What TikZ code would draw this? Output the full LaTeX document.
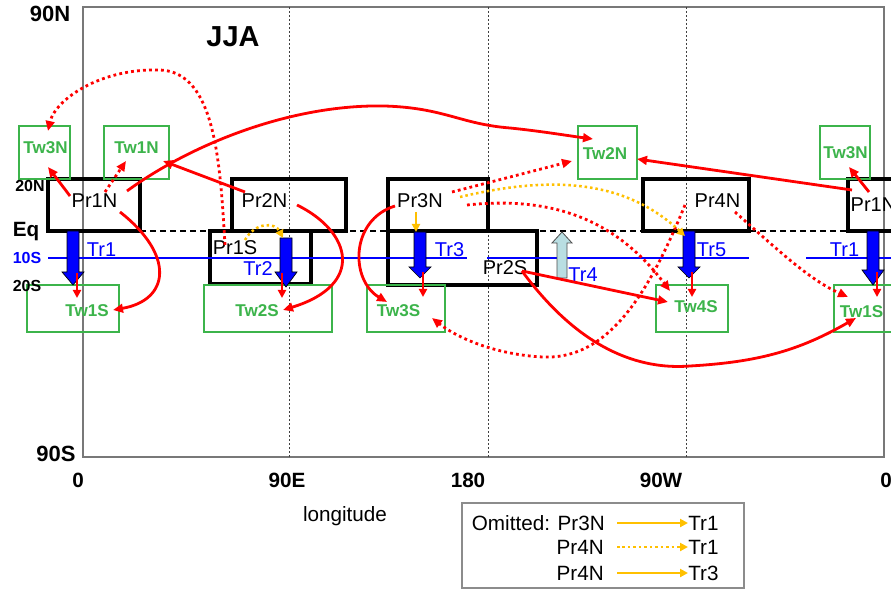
\documentclass[tikz,border=0pt]{standalone}
\usepackage{fontspec}
\setmainfont{Liberation Sans}
\usetikzlibrary{arrows.meta}
\definecolor{twgreen}{RGB}{60,180,75}
\definecolor{tgold}{RGB}{255,192,0}
\definecolor{trfour}{RGB}{185,222,226}
\definecolor{framegray}{RGB}{120,120,120}
\definecolor{legendgray}{RGB}{140,140,140}

% block arrow pointing down: centre x, top y, head y, tip y, fill colour
\newcommand{\downblock}[5]{%
  \filldraw[fill=#5,draw=black,line width=0.5pt]
    ({#1-6},#2) -- ({#1+6},#2) -- ({#1+6},#3) -- ({#1+11},#3) -- (#1,#4)
    -- ({#1-11},#3) -- ({#1-6},#3) -- cycle;}

\begin{document}
\begin{tikzpicture}[x=0.75pt,y=-0.75pt,
  basetext/.style={inner sep=0pt,text depth=0pt},
  prtext/.style={basetext,font=\fontsize{15}{15}\selectfont},
  twtext/.style={basetext,text=twgreen,font=\fontsize{12.8}{13}\selectfont\bfseries},
  trtext/.style={basetext,text=blue,font=\fontsize{15}{15}\selectfont},
  axtext/.style={basetext,font=\fontsize{16.5}{17}\selectfont\bfseries},
  lontext/.style={basetext,font=\fontsize{15.5}{16}\selectfont\bfseries},
  lattext/.style={basetext,font=\fontsize{12}{12}\selectfont\bfseries},
  legtext/.style={basetext,font=\fontsize{15.5}{16}\selectfont},
  prbox/.style={draw=black,line width=2.5pt},
  twbox/.style={draw=twgreen,line width=1.9pt},
  rtip/.style={-{Triangle[length=7.5pt,width=6.5pt]}},
  link/.style={draw=red,line width=2.1pt,rtip},
  dotlink/.style={link,dash pattern=on 2.1pt off 2.4pt},
  smalldown/.style={draw=red,line width=1.6pt,-{Triangle[length=6pt,width=6pt]}},
  goldlink/.style={draw=tgold,line width=1.9pt,-{Triangle[length=6pt,width=6pt]}},
  golddot/.style={goldlink,dash pattern=on 1.9pt off 2.2pt}]

\useasboundingbox (0,0) rectangle (891,591);
\fill[white] (0,0) rectangle (891,591);

% frame and longitude guides
\draw[framegray,line width=0.8pt] (83,7) rectangle (884,457);
\foreach \gx in {289,488,686}
  \draw[black!75,line width=0.7pt,dash pattern=on 1.5pt off 1.5pt] (\gx,7) -- (\gx,457);

% equator
\draw[black,line width=1.2pt,dash pattern=on 4.5pt off 3pt] (140,231) -- (848,231);

% precipitation boxes
\draw[prbox] (48,179) rectangle (140,231);
\draw[prbox] (232,179) rectangle (346,231);
\draw[prbox] (210,231) rectangle (311,284);
\draw[prbox] (388,179) rectangle (488,231);
\draw[prbox] (388,231) rectangle (537,285);
\draw[prbox] (643,179) rectangle (749,231);
\draw[prbox] (848,179) rectangle (900,231);

% wave boxes
\draw[twbox] (19,126) rectangle (70,179);
\draw[twbox] (104,126) rectangle (169,179);
\draw[twbox] (27,285) rectangle (119,332);
\draw[twbox] (204,285) rectangle (332,332);
\draw[twbox] (367,285) rectangle (445,332);
\draw[twbox] (578,126) rectangle (637,179);
\draw[twbox] (656,285) rectangle (728,332);
\draw[twbox] (820,126) rectangle (870,179);
\draw[twbox] (834,285) rectangle (900,332);

% 10S line
\draw[blue,line width=1pt] (48,258) -- (140,258);
\draw[blue,line width=2.2pt] (140,258) -- (467,258);
\draw[blue,line width=1pt] (487,258) -- (628,258);
\draw[blue,line width=1.7pt] (628,258) -- (749,258);
\draw[blue,line width=1.7pt] (806,258) -- (891,258);

% transport arrows
\downblock{73}{231}{272}{285}{blue}
\downblock{286}{238}{272}{287}{blue}
\downblock{420}{232}{267}{278}{blue}
\downblock{689}{231}{267}{278}{blue}
\downblock{873}{231}{270}{285}{blue}
\filldraw[fill=trfour,draw=black!70,line width=0.6pt]
  (557,278) -- (567,278) -- (567,243) -- (572,243) -- (562,232) -- (552,243) -- (557,243) -- cycle;

% axis labels
\node[axtext] (n90) at (50,14) {90N};
\node[axtext] (s90) at (56,454) {90S};
\node[lattext] (n20) at (30,186) {20N};
\node[basetext,font=\fontsize{15.5}{16}\selectfont\bfseries] (eq) at (26,229) {Eq};
\node[lattext,text=blue] (s10) at (27,258) {10S};
\node[lattext] (s20) at (27,286) {20S};
\node[lontext] (lon0) at (78,480) {0};
\node[lontext] (lon90e) at (287,480) {90E};
\node[lontext] (lon180) at (468,480) {180};
\node[lontext] (lon90w) at (661,480) {90W};
\node[lontext] (lon360) at (886,480) {0};
\node[legtext] (lonlabel) at (345,514) {longitude};
\node[basetext,font=\fontsize{21.7}{22}\selectfont\bfseries] (season) at (233,37) {JJA};

% precipitation labels
\node[prtext] (pr1n) at (94.5,201) {Pr1N};
\node[prtext] (pr2n) at (264.5,201) {Pr2N};
\node[prtext] (pr1s) at (235,248) {Pr1S};
\node[prtext] (pr3n) at (420,201) {Pr3N};
\node[prtext] (pr2s) at (505,268) {Pr2S};
\node[prtext] (pr4n) at (717.5,201) {Pr4N};
\node[prtext] (pr1nb) at (873.5,205) {Pr1N};

% wave labels
\node[twtext] (tw3n) at (45.5,147.5) {Tw3N};
\node[twtext] (tw1n) at (136.5,147.5) {Tw1N};
\node[twtext] (tw1s) at (87,311) {Tw1S};
\node[twtext] (tw2s) at (257,311) {Tw2S};
\node[twtext] (tw3s) at (398.5,311) {Tw3S};
\node[twtext] (tw2n) at (605,153.5) {Tw2N};
\node[twtext] (tw4s) at (696,306.5) {Tw4S};
\node[twtext] (tw3nb) at (845.5,153) {Tw3N};
\node[twtext] (tw1sb) at (861.5,312) {Tw1S};

% transport labels
\node[trtext] (tr1) at (101.5,250) {Tr1};
\node[trtext] (tr2) at (258,269) {Tr2};
\node[trtext] (tr3) at (449.5,249.5) {Tr3};
\node[trtext] (tr4) at (583,275) {Tr4};
\node[trtext] (tr5) at (711.5,250) {Tr5};
\node[trtext] (tr1b) at (844.5,250) {Tr1};

% connector end points
\coordinate (a1) at (70,196);   \coordinate (b1) at (48,167);
\coordinate (a2) at (120,212);  \coordinate (b2) at (113,310);
\coordinate (a3) at (127,191);  \coordinate (b3) at (593,139);
\coordinate (a4) at (245,192);  \coordinate (b4) at (163,161);
\coordinate (a5) at (297,205);  \coordinate (b5) at (283,310);
\coordinate (a6) at (395,206);  \coordinate (b6) at (387,302);
\coordinate (a7) at (522,271);  \coordinate (b7) at (668,302);
\coordinate (b8) at (856,318);
\coordinate (a9) at (852,190);  \coordinate (b9) at (637,159);
\coordinate (a10) at (869,192); \coordinate (b10) at (849,167);
\coordinate (d1a) at (105,192); \coordinate (d1b) at (126,161);
\coordinate (d2a) at (225,245); \coordinate (d2b) at (48,131);
\coordinate (d3a) at (452,192); \coordinate (d3b) at (572,161);
\coordinate (d4a) at (467,205); \coordinate (d4b) at (670,291);
\coordinate (d5a) at (685,205); \coordinate (d5b) at (432,318);
\coordinate (d6a) at (735,212); \coordinate (d6b) at (848,297);
\coordinate (y1a) at (416,212); \coordinate (y1b) at (416,232);
\coordinate (y2a) at (245,240); \coordinate (y2b) at (283,238);
\coordinate (y3a) at (460,197); \coordinate (y3b) at (685,236);

% wave responses (solid)
\draw[link] (a1) -- (b1);
\draw[link] (a2) .. controls (175,255) and (170,300) .. (b2);
\draw[link] (a3) .. controls (190,145) and (290,104) .. (385,106)
  .. controls (445,108) and (460,124) .. (510,128)
  .. controls (540,131) and (570,136) .. (b3);
\draw[link] (a4) -- (b4);
\draw[link] (a5) .. controls (352,232) and (365,285) .. (b5);
\draw[link] (a6) .. controls (350,220) and (350,280) .. (b6);
\draw[link] (a7) -- (b7);
\draw[link] (a7) .. controls (580,350) and (640,370) .. (690,366)
  .. controls (760,362) and (800,350) .. (b8);
\draw[link] (a9) -- (b9);
\draw[link] (a10) -- (b10);

% wave responses (dotted)
\draw[dotlink] (d1a) -- (d1b);
\draw[dotlink] (d2a) .. controls (220,160) and (215,72) .. (160,70)
  .. controls (100,68) and (55,100) .. (d2b);
\draw[dotlink] (d3a) -- (d3b);
\draw[dotlink] (d4a) .. controls (560,195) and (620,225) .. (d4b);
\draw[dotlink] (d5a) .. controls (650,290) and (610,360) .. (543,357)
  .. controls (500,355) and (460,340) .. (d5b);
\draw[dotlink] (d6a) .. controls (780,252) and (810,280) .. (d6b);

% transport to wave
\draw[smalldown] (77,273) -- (77,298);
\draw[smalldown] (282,273) -- (282,298);
\draw[smalldown] (423,272) -- (423,297);
\draw[smalldown] (692,272) -- (692,297);
\draw[smalldown] (877,272) -- (877,297);

% precipitation to transport
\draw[goldlink] (y1a) -- (y1b);
\draw[golddot] (y2a) .. controls (255,222) and (275,222) .. (y2b);
\draw[golddot] (y3a) .. controls (540,178) and (620,175) .. (y3b);

% legend
\draw[legendgray,line width=0.8pt] (462,503) rectangle (744,588);
\node[legtext,anchor=east] (lga) at (605,523) {Omitted: Pr3N};
\node[legtext,anchor=east] (lgb) at (604,547) {Pr4N};
\node[legtext,anchor=east] (lgc) at (604,573) {Pr4N};
\node[legtext,anchor=west] (lta) at (688,523) {Tr1};
\node[legtext,anchor=west] (ltb) at (688,547) {Tr1};
\node[legtext,anchor=west] (ltc) at (688,573) {Tr3};
\draw[goldlink] ([xshift=9pt]lga.east) -- (lta.west);
\draw[golddot] ([xshift=9.75pt]lgb.east) -- (ltb.west);
\draw[goldlink] ([xshift=9.75pt]lgc.east) -- (ltc.west);
\end{tikzpicture}
\end{document}
